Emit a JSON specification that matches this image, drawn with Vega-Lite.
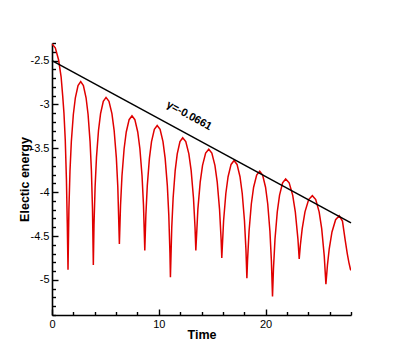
{
  "$schema": "https://vega.github.io/schema/vega-lite/v6.json",
  "width": 299,
  "height": 272,
  "autosize": "none",
  "padding": {"left": 52, "top": 43, "right": 48, "bottom": 40},
  "background": "white",
  "config": {
    "view": {"stroke": null},
    "font": "Liberation Sans",
    "axis": {
      "grid": false,
      "domainColor": "black",
      "domainWidth": 1.6,
      "tickColor": "black",
      "tickWidth": 1.4,
      "labelColor": "black",
      "labelFontSize": 11,
      "labelFont": "Liberation Sans",
      "titleFont": "Liberation Sans",
      "titleFontSize": 12.5,
      "titleFontWeight": "bold",
      "titleColor": "black"
    }
  },
  "encoding": {
    "x": {
      "field": "t",
      "type": "quantitative",
      "scale": {"domain": [0, 28], "nice": false, "zero": false},
      "axis": {
        "title": "Time",
        "values": [0, 2, 4, 6, 8, 10, 12, 14, 16, 18, 20, 22, 24, 26, 28],
        "labelExpr": "datum.value % 10 === 0 ? datum.label : ''",
        "tickSize": {"condition": {"test": "datum.value % 10 === 0", "value": -6}, "value": -3.5},
        "labelPadding": 9,
        "labelFlush": false,
        "labelOverlap": false,
        "titleX": 149.5,
        "titleY": 23.5,
        "titleBaseline": "alphabetic"
      }
    },
    "y": {
      "field": "v",
      "type": "quantitative",
      "scale": {"domain": [-5.4, -2.3], "nice": false, "zero": false},
      "axis": {
        "title": "Electic energy",
        "values": [-5.4, -5.3, -5.2, -5.1, -5.0, -4.9, -4.8, -4.7, -4.6, -4.5, -4.4, -4.3, -4.2, -4.1, -4.0, -3.9, -3.8, -3.7, -3.6, -3.5, -3.4, -3.3, -3.2, -3.1, -3.0, -2.9, -2.8, -2.7, -2.6, -2.5, -2.4, -2.3],
        "labelExpr": "abs(datum.value*2 - round(datum.value*2)) < 1e-6 ? '' + round(datum.value*10)/10 : ''",
        "tickSize": {"condition": {"test": "abs(datum.value*2 - round(datum.value*2)) < 1e-6", "value": -6}, "value": -3.5},
        "labelPadding": 9,
        "labelFlush": false,
        "labelOverlap": false,
        "titleX": -24,
        "titleY": 136,
        "titleAngle": -90,
        "titleAlign": "center",
        "titleBaseline": "alphabetic"
      }
    }
  },
  "layer": [
    {
      "data": {"values": [
        {"t": 0, "v": -2.31}, {"t": 0.31, "v": -2.354}, {"t": 0.62, "v": -2.494}, {"t": 0.853, "v": -2.685}, {"t": 1.0, "v": -2.9}, {"t": 1.12, "v": -3.1}, {"t": 1.241, "v": -3.4}, {"t": 1.35, "v": -3.85}, {"t": 1.43, "v": -4.35}, {"t": 1.5, "v": -4.885},
        {"t": 1.583, "v": -4.195}, {"t": 1.684, "v": -3.76}, {"t": 1.81, "v": -3.426}, {"t": 1.998, "v": -3.115}, {"t": 2.187, "v": -2.924}, {"t": 2.438, "v": -2.784}, {"t": 2.69, "v": -2.74}, {"t": 2.94, "v": -2.784}, {"t": 3.191, "v": -2.924}, {"t": 3.379, "v": -3.115}, {"t": 3.566, "v": -3.426}, {"t": 3.692, "v": -3.76}, {"t": 3.792, "v": -4.195}, {"t": 3.87, "v": -4.83},
        {"t": 3.933, "v": -4.375}, {"t": 4.036, "v": -3.94}, {"t": 4.164, "v": -3.606}, {"t": 4.356, "v": -3.295}, {"t": 4.548, "v": -3.104}, {"t": 4.804, "v": -2.964}, {"t": 5.06, "v": -2.92}, {"t": 5.336, "v": -2.964}, {"t": 5.612, "v": -3.104}, {"t": 5.818, "v": -3.295}, {"t": 6.025, "v": -3.606}, {"t": 6.163, "v": -3.94}, {"t": 6.31, "v": -4.59},
        {"t": 6.418, "v": -4.15}, {"t": 6.552, "v": -3.816}, {"t": 6.753, "v": -3.505}, {"t": 6.954, "v": -3.314}, {"t": 7.222, "v": -3.174}, {"t": 7.49, "v": -3.13}, {"t": 7.759, "v": -3.174}, {"t": 8.029, "v": -3.314}, {"t": 8.231, "v": -3.505}, {"t": 8.433, "v": -3.816}, {"t": 8.568, "v": -4.15}, {"t": 8.69, "v": -4.665},
        {"t": 8.79, "v": -4.26}, {"t": 8.923, "v": -3.926}, {"t": 9.122, "v": -3.615}, {"t": 9.32, "v": -3.424}, {"t": 9.585, "v": -3.284}, {"t": 9.85, "v": -3.24}, {"t": 10.122, "v": -3.284}, {"t": 10.393, "v": -3.424}, {"t": 10.597, "v": -3.615}, {"t": 10.801, "v": -3.926}, {"t": 10.937, "v": -4.26}, {"t": 11.045, "v": -4.695}, {"t": 11.09, "v": -4.97},
        {"t": 11.215, "v": -4.4}, {"t": 11.343, "v": -4.066}, {"t": 11.535, "v": -3.755}, {"t": 11.728, "v": -3.564}, {"t": 11.984, "v": -3.424}, {"t": 12.24, "v": -3.38}, {"t": 12.528, "v": -3.424}, {"t": 12.816, "v": -3.564}, {"t": 13.032, "v": -3.755}, {"t": 13.249, "v": -4.066}, {"t": 13.393, "v": -4.4}, {"t": 13.47, "v": -4.665},
        {"t": 13.659, "v": -4.196}, {"t": 13.878, "v": -3.885}, {"t": 14.097, "v": -3.694}, {"t": 14.388, "v": -3.554}, {"t": 14.68, "v": -3.51}, {"t": 14.968, "v": -3.554}, {"t": 15.257, "v": -3.694}, {"t": 15.473, "v": -3.885}, {"t": 15.69, "v": -4.196}, {"t": 15.834, "v": -4.53}, {"t": 15.9, "v": -4.75},
        {"t": 16.069, "v": -4.326}, {"t": 16.279, "v": -4.015}, {"t": 16.489, "v": -3.824}, {"t": 16.77, "v": -3.684}, {"t": 17.05, "v": -3.64}, {"t": 17.328, "v": -3.684}, {"t": 17.606, "v": -3.824}, {"t": 17.815, "v": -4.015}, {"t": 18.024, "v": -4.326}, {"t": 18.163, "v": -4.66}, {"t": 18.25, "v": -4.98},
        {"t": 18.31, "v": -4.78}, {"t": 18.453, "v": -4.446}, {"t": 18.666, "v": -4.135}, {"t": 18.88, "v": -3.944}, {"t": 19.165, "v": -3.804}, {"t": 19.45, "v": -3.76}, {"t": 19.724, "v": -3.804}, {"t": 19.998, "v": -3.944}, {"t": 20.203, "v": -4.135}, {"t": 20.408, "v": -4.446}, {"t": 20.545, "v": -4.78}, {"t": 20.65, "v": -5.19},
        {"t": 20.74, "v": -4.87}, {"t": 20.882, "v": -4.536}, {"t": 21.096, "v": -4.225}, {"t": 21.31, "v": -4.034}, {"t": 21.595, "v": -3.894}, {"t": 21.88, "v": -3.85}, {"t": 22.209, "v": -3.894}, {"t": 22.538, "v": -4.034}, {"t": 22.785, "v": -4.225}, {"t": 23.032, "v": -4.536}, {"t": 23.15, "v": -4.76},
        {"t": 23.258, "v": -4.604}, {"t": 23.431, "v": -4.415}, {"t": 23.69, "v": -4.224}, {"t": 24.035, "v": -4.084}, {"t": 24.38, "v": -4.04}, {"t": 24.698, "v": -4.084}, {"t": 25.017, "v": -4.224}, {"t": 25.256, "v": -4.415}, {"t": 25.495, "v": -4.726}, {"t": 25.65, "v": -5.05},
        {"t": 25.792, "v": -4.834}, {"t": 25.962, "v": -4.645}, {"t": 26.218, "v": -4.454}, {"t": 26.559, "v": -4.314}, {"t": 26.9, "v": -4.27}, {"t": 27.2, "v": -4.33}, {"t": 27.46, "v": -4.55}, {"t": 27.65, "v": -4.7}, {"t": 27.8, "v": -4.8}, {"t": 27.95, "v": -4.88}, {"t": 28, "v": -4.89}
      ]},
      "mark": {"type": "line", "color": "#e00000", "strokeWidth": 1.5, "clip": true}
    },
    {
      "data": {"values": [{"t": 0, "v": -2.5}, {"t": 28, "v": -4.3508}]},
      "mark": {"type": "line", "color": "black", "strokeWidth": 1.5}
    },
    {
      "data": {"values": [{"t": 12.83, "v": -3.13, "label": "γ=-0.0661"}]},
      "mark": {"type": "text", "angle": 28.5, "fontSize": 11, "fontWeight": "bold", "font": "Liberation Sans", "align": "center", "baseline": "middle", "color": "black"},
      "encoding": {"text": {"field": "label", "type": "nominal"}}
    }
  ]
}
